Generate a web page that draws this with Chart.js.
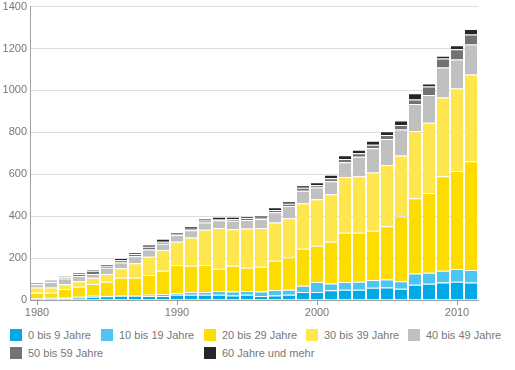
<!DOCTYPE html>
<html>
<head>
<meta charset="utf-8">
<script src="https://cdn.jsdelivr.net/npm/chart.js@4/dist/chart.umd.min.js"></script>
<style>
  html, body { margin: 0; padding: 0; background: #fff; }
  #wrap { position: relative; width: 515px; height: 370px; overflow: hidden; font-family: "Liberation Sans", Arial, sans-serif; }
  #chart { position: absolute; left: 0; top: -3px; }
  .leg { position: absolute; font-size: 11px; color: #777; line-height: 12px; white-space: nowrap; }
  .leg i { position: absolute; left: 0; top: 0; width: 12px; height: 12px; }
  .leg span { position: absolute; left: 18px; top: 0; }
</style>
</head>
<body>
<div id="wrap">
  <canvas id="chart" width="515" height="323"></canvas>
  <div id="legend"></div>
</div>
<script>
// Jahre und Werte pro Altersgruppe
const jahre = [1980, 1981, 1982, 1983, 1984, 1985, 1986, 1987, 1988, 1989,
               1990, 1991, 1992, 1993, 1994, 1995, 1996, 1997, 1998, 1999,
               2000, 2001, 2002, 2003, 2004, 2005, 2006, 2007, 2008, 2009,
               2010, 2011];

const alter0bis9   = [7, 7, 8, 12, 15, 18, 20, 20, 19, 19, 25, 25, 25, 25, 22, 25, 19, 22, 25, 38, 38, 46, 49, 49, 59, 60, 54, 73, 78, 83, 87, 83];
const alter10bis19 = [3, 4, 3, 4, 5, 6, 4, 2, 6, 9, 7, 13, 13, 18, 19, 18, 21, 26, 24, 30, 48, 33, 37, 38, 36, 38, 36, 54, 52, 57, 61, 60];
const alter20bis29 = [25, 24, 41, 47, 56, 63, 82, 84, 94, 112, 135, 125, 129, 106, 122, 111, 119, 139, 153, 176, 173, 199, 235, 234, 235, 254, 310, 359, 381, 450, 468, 519];
const alter30bis39 = [25, 25, 23, 27, 30, 37, 46, 69, 87, 98, 111, 135, 168, 194, 175, 187, 184, 183, 188, 218, 222, 227, 266, 269, 278, 292, 290, 319, 335, 376, 393, 414];
const alter40bis49 = [15, 26, 27, 24, 18, 30, 27, 34, 35, 30, 32, 35, 35, 38, 40, 41, 43, 49, 59, 59, 56, 62, 70, 93, 116, 124, 124, 130, 132, 143, 138, 143];
const alter50bis59 = [3, 4, 6, 10, 16, 10, 11, 10, 13, 10, 6, 7, 9, 6, 8, 8, 6, 10, 10, 15, 11, 14, 16, 17, 17, 19, 21, 22, 41, 43, 50, 48];
const alter60plus  = [3, 4, 5, 6, 3, 7, 10, 8, 11, 14, 8, 12, 10, 10, 11, 10, 11, 14, 12, 12, 14, 17, 18, 17, 19, 18, 22, 29, 14, 14, 19, 26];

const yTicks = [0, 200, 400, 600, 800, 1000, 1200, 1400];

const serien = [
  { label: '0 bis 9 Jahre',     data: alter0bis9,   color: '#00a9e8' },
  { label: '10 bis 19 Jahre',   data: alter10bis19, color: '#4dc5f0' },
  { label: '20 bis 29 Jahre',   data: alter20bis29, color: '#ffdc00' },
  { label: '30 bis 39 Jahre',   data: alter30bis39, color: '#ffe64d' },
  { label: '40 bis 49 Jahre',   data: alter40bis49, color: '#c0c0c0' },
  { label: '50 bis 59 Jahre',   data: alter50bis59, color: '#737373' },
  { label: '60 Jahre und mehr', data: alter60plus,  color: '#262626' }
];

// Legende (HTML, wie im Original in zwei Zeilen)
const legPos = [
  [10, 329], [101, 329], [204, 329], [306, 329], [408, 329],
  [10, 347], [204, 347]
];
const legend = document.getElementById('legend');
serien.forEach((s, i) => {
  const d = document.createElement('div');
  d.className = 'leg';
  d.style.left = legPos[i][0] + 'px';
  d.style.top = legPos[i][1] + 'px';
  d.innerHTML = `<i style="background:${s.color}"></i><span>${s.label}</span>`;
  legend.appendChild(d);
});

Chart.defaults.font.family = '"Liberation Sans", Arial, sans-serif';
Chart.defaults.font.size = 11;
Chart.defaults.color = '#777';

new Chart(document.getElementById('chart'), {
  type: 'bar',
  data: {
    labels: jahre.map(String),
    datasets: serien.map(s => ({
      label: s.label,
      data: s.data,
      backgroundColor: s.color,
      borderColor: 'rgba(255,255,255,0.2)',
      borderWidth: { top: 1, left: 0, right: 0, bottom: 0 },
      borderSkipped: 'start',
      categoryPercentage: 1,
      barPercentage: 0.86
    }))
  },
  options: {
    responsive: false,
    animation: false,
    layout: { padding: { top: 0, right: 37, left: 0, bottom: 0 } },
    plugins: {
      legend: { display: false },
      tooltip: { enabled: false }
    },
    scales: {
      x: {
        stacked: true,
        offset: true,
        afterFit: function(scale) { scale.height = 20; },
        grid: {
          offset: false,
          drawOnChartArea: false,
          drawTicks: true,
          tickLength: 5,
          color: function(ctx) {
            return jahre[ctx.index] % 10 === 0 ? '#999' : 'rgba(0,0,0,0)';
          }
        },
        border: { color: '#a0a0a0', width: 1 },
        ticks: {
          autoSkip: false,
          maxRotation: 0,
          padding: 1,
          callback: function(value, index) {
            return jahre[index] % 10 === 0 ? String(jahre[index]) : '';
          }
        }
      },
      y: {
        stacked: true,
        min: 0,
        max: 1400,
        afterFit: function(scale) { scale.width = 30; },
        afterBuildTicks: function(scale) {
          scale.ticks = yTicks.map(v => ({ value: v }));
        },
        grid: { color: '#dddddd', drawTicks: false },
        border: { color: '#a0a0a0', width: 1 },
        ticks: {
          padding: 3,
          callback: function(value) { return String(value); }
        }
      }
    }
  }
});
</script>
</body>
</html>
